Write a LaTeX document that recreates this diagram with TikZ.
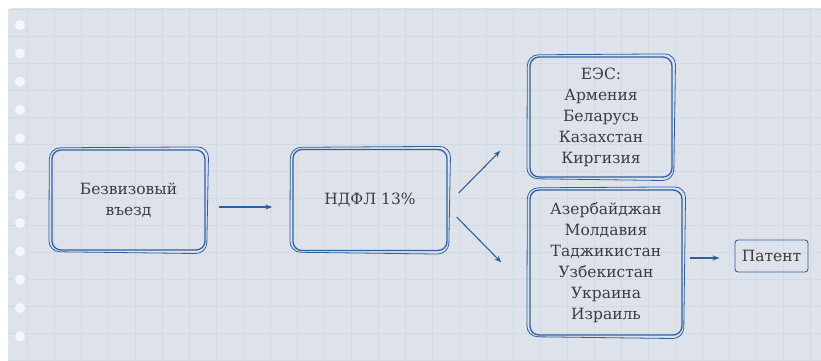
\documentclass[tikz,border=0pt]{standalone}
\usepackage{fontspec}
\setmainfont{DejaVu Serif}
\usetikzlibrary{arrows.meta, positioning}
\definecolor{ink}{HTML}{2C609F}
\definecolor{paper}{HTML}{DEE3EB}
\definecolor{gridcol}{HTML}{D4DAE4}
\definecolor{txt}{HTML}{3C3C3C}
\definecolor{hole}{HTML}{F4F6F9}

\begin{document}
\begin{tikzpicture}[x=1pt,y=1pt,on grid,auto]
    \tikzstyle{box}=[shape=rectangle,draw=ink,line width=1.3pt,rounded corners=9pt,text=txt,align=center,
      font=\fontsize{15.5}{21}\selectfont,
      append after command={\pgfextra{\draw[ink,line width=0.8pt,rounded corners=11pt]
        ([shift={(-2pt,1.5pt)}]\tikzlastnode.north west) -- ([shift={(3pt,2.5pt)}]\tikzlastnode.north east)
        -- ([shift={(1pt,-3pt)}]\tikzlastnode.south east) -- ([shift={(-2.5pt,-1pt)}]\tikzlastnode.south west) -- cycle;}}]
    \tikzstyle{arr}=[-{Stealth[length=7pt,width=5pt]},draw=ink,line width=1.1pt]

    % paper
    \useasboundingbox (0,0) rectangle (821,360);
    \fill[white] (0,0) rectangle (821,360);
    \begin{scope}
    \clip (0,0) rectangle (821,360);
    \fill[paper, rounded corners=4pt] (8,-10) rectangle (830,352);
    \draw[gridcol, step=27] (8,0) grid (821,352);
    \foreach \i in {0,...,11}
        \fill[hole] (20,{335-28.3*\i}) circle (5);
    \end{scope}

    \node[box,minimum width=153,minimum height=100] (A1) at (128.5,160) {Безвизовый\\въезд};
    \node[box,minimum width=154,minimum height=101,right=241.5pt of A1] (B1) {НДФЛ 13\%};
    \node[box,minimum width=142,minimum height=120,above right=83pt and 231pt of B1] (C1)
        {ЕЭС:\\Армения\\Беларусь\\Казахстан\\Киргизия};
    \node[box,minimum width=152,minimum height=145,below right=62.5pt and 236pt of B1] (C2)
        {Азербайджан\\Молдавия\\Таджикистан\\Узбекистан\\Украина\\Израиль};
    \node[draw=ink,line width=0.9pt,rounded corners=3pt,text=txt,font=\fontsize{15.5}{21}\selectfont,
        minimum width=73,minimum height=32,above right=6.5pt and 165.5pt of C2] (D2) {Патент};

    \path
    ([xshift=13pt,yshift=-7pt]A1.east) edge[arr] ([xshift=-20pt,yshift=-7pt]B1.west)
    ([xshift=11pt,yshift=7pt]B1.east) edge[arr] ([xshift=-29pt,yshift=27pt]C1.south west)
    ([xshift=9pt,yshift=-17pt]B1.east) edge[arr] ([xshift=-28pt]C2.west)
    ([xshift=7pt,yshift=4.5pt]C2.east) edge[arr] ([xshift=-15pt,yshift=-2pt]D2.west)
    ;

\end{tikzpicture}
\end{document}
